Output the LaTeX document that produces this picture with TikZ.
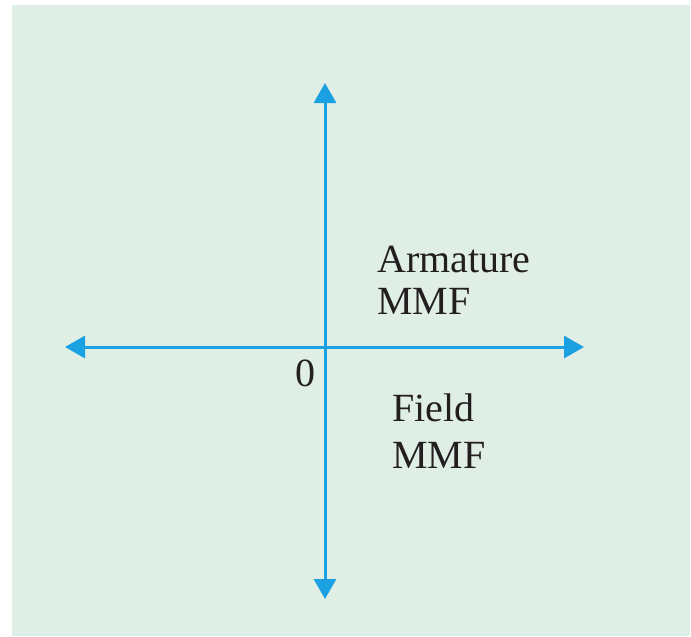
\documentclass[tikz,border=0pt]{standalone}
\usepackage{fontspec}
\setmainfont{Liberation Serif}
\usetikzlibrary{arrows.meta}
\definecolor{panelbg}{RGB}{224,239,230}
\definecolor{axisblue}{RGB}{27,161,226}
\definecolor{inkdark}{RGB}{35,31,32}
\begin{document}
\begin{tikzpicture}[x=0.5pt,y=-0.5pt,
  axis/.style={axisblue,line width=1.5pt,{Triangle[length=10pt,width=11pt]}-{Triangle[length=10pt,width=11pt]}},
  lbl/.style={inkdark,inner sep=0pt,align=left,font=\fontsize{20}{21}\selectfont}]
  \useasboundingbox (0,0) rectangle (691,637);
  \fill[panelbg] (12,5) rectangle (690,636);
  \coordinate (west) at (65,347);
  \coordinate (east) at (584,347);
  \coordinate (north) at (325,83);
  \coordinate (south) at (325,599);
  \draw[axis] (west) -- (east);
  \draw[axis] (south) -- (north);
  \node[lbl,anchor=base west] (zero) at (295,386) {0};
  \node[lbl,anchor=north west] (arm) at (377,246) {Armature\\MMF};
  \node[lbl,anchor=north west] (fld) at (392,393) {Field\\[2.5pt]MMF};
\end{tikzpicture}
\end{document}
